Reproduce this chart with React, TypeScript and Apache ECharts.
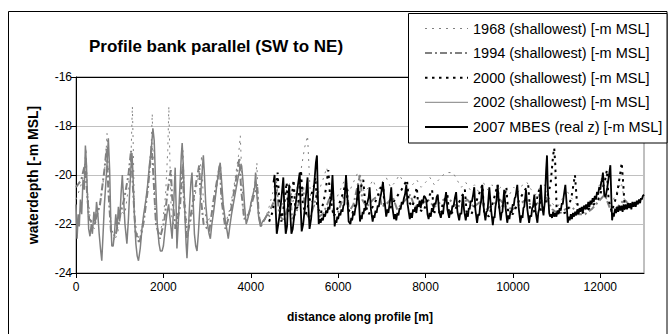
import React, { useEffect, useRef } from "react";
import * as echarts from "echarts";

const seriesNames = [
  "1968 (shallowest) [-m MSL]",
  "1994 (shallowest) [-m MSL]",
  "2000 (shallowest) [-m MSL]",
  "2002 (shallowest) [-m MSL]",
  "2007 MBES (real z) [-m MSL]",
];

const d1968: number[][] = [
  [0,-21.0],[100,-20.5],[180,-20.0],[230,-18.9],[260,-20.6],[330,-21.9],[420,-22.2],[520,-21.4],[600,-20.6],[680,-19.4],[710,-18.3],[740,-19.8],[800,-22.0],[880,-22.7],[960,-22.3],[1040,-21.5],[1120,-21.6],[1200,-20.5],[1260,-19.2],[1290,-17.2],[1310,-18.8],[1340,-21.8],[1420,-22.6],[1500,-22.2],[1580,-21.3],[1660,-20.2],[1720,-18.9],[1745,-17.5],[1770,-19.5],[1820,-21.8],[1900,-22.4],[1980,-22.0],[2050,-20.8],[2100,-19.0],[2125,-17.2],[2150,-19.5],[2180,-21.6],[2260,-22.2],[2350,-21.4],[2420,-20.0],[2450,-19.0],[2480,-20.8],[2560,-22.4],[2650,-21.7],[2750,-20.6],[2850,-19.6],[2880,-19.2],[2910,-20.9],[2990,-22.0],[3100,-21.6],[3200,-20.7],[3280,-19.9],[3310,-19.5],[3340,-21.0],[3420,-22.0],[3520,-21.4],[3620,-20.4],[3720,-19.2],[3760,-18.4],[3790,-19.8],[3830,-21.6],[3920,-21.9],[4020,-21.0],[4110,-20.2],[4140,-19.5],[4170,-21.2],[4230,-22.1],[4330,-21.8],[4420,-21.3],[4520,-20.6],[4580,-20.1],[4620,-20.9],[4700,-21.3],[4800,-20.7],[4900,-20.3],[4950,-21.2],[5050,-20.6],[5150,-19.8],[5230,-18.9],[5300,-18.4],[5330,-19.6],[5370,-21.0],[5450,-21.3],[5550,-20.7],[5650,-20.2],[5740,-19.7],[5790,-20.4],[5850,-21.1],[5950,-21.0],[6050,-20.6],[6150,-20.2],[6250,-20.7],[6350,-20.3],[6450,-19.9],[6520,-20.3],[6600,-20.7],[6700,-20.5],[6800,-20.2],[6900,-20.7],[7000,-20.3],[7100,-20.1],[7200,-20.5],[7300,-20.3],[7400,-20.0],[7500,-20.3],[7600,-20.6],[7700,-20.4],[7800,-20.2],[7900,-20.5],[8000,-20.3],[8100,-20.1],[8200,-20.4],[8300,-20.2],[8400,-20.0],[8520,-19.9],[8630,-19.9],[8720,-20.2],[8820,-20.5],[8920,-20.3],[9020,-20.6],[9120,-20.4],[9220,-20.7],[9320,-20.3],[9420,-20.6],[9520,-20.4],[9620,-20.7],[9720,-20.5],[9820,-20.6],[9920,-20.8],[10020,-20.5],[10120,-20.7],[10220,-20.4],[10320,-20.3],[10420,-20.6],[10520,-20.8],[10620,-20.5],[10720,-20.4],[10820,-20.9],[10920,-21.2],[11020,-21.3],[11120,-21.0],[11220,-20.6],[11320,-20.9],[11420,-21.1],[11520,-21.4],[11620,-21.5],[11720,-21.3],[11820,-21.1],[11920,-20.7],[12000,-20.3],[12050,-20.0],[12100,-20.8],[12200,-21.2],[12300,-21.0],[12400,-20.6],[12480,-20.3],[12550,-21.0],[12650,-21.2],
];

const d1994: number[][] = [
  [0,-20.5],[120,-20.2],[200,-19.6],[240,-20.4],[300,-21.8],[420,-22.0],[550,-21.2],[650,-19.8],[700,-18.9],[740,-20.6],[800,-22.3],[900,-22.5],[1000,-21.7],[1100,-21.0],[1200,-20.0],[1260,-19.0],[1300,-20.4],[1360,-22.3],[1450,-22.8],[1550,-21.9],[1650,-20.5],[1730,-18.8],[1770,-20.0],[1830,-22.0],[1920,-22.6],[2020,-21.9],[2100,-20.6],[2170,-19.8],[2200,-20.9],[2280,-22.2],[2380,-21.3],[2440,-19.6],[2470,-21.0],[2540,-22.6],[2640,-21.5],[2760,-20.2],[2820,-19.6],[2850,-20.8],[2920,-22.0],[3050,-22.3],[3150,-21.0],[3250,-20.0],[3290,-19.6],[3330,-21.0],[3420,-22.2],[3550,-21.4],[3680,-20.0],[3740,-19.3],[3780,-20.6],[3850,-21.8],[3950,-21.6],[4080,-20.8],[4150,-20.5],[4180,-21.6],[4230,-22.1],[4350,-21.7],[4450,-21.4],[4550,-21.0],[4600,-20.6],[4650,-21.6],[4750,-21.9],[4850,-21.3],[4900,-20.8],[4950,-21.8],[5050,-21.5],[5150,-20.8],[5200,-20.5],[5250,-21.5],[5350,-21.8],[5450,-21.2],[5520,-20.7],[5560,-21.7],[5650,-21.6],[5750,-21.2],[5850,-20.7],[5900,-21.6],[6000,-21.5],[6100,-21.0],[6200,-20.6],[6250,-21.5],[6350,-21.2],[6500,-20.0],[6550,-21.0],[6650,-21.3],[6800,-21.0],[6950,-20.8],[7000,-21.3],[7100,-21.2],[7250,-20.9],[7350,-21.4],[7500,-21.1],[7650,-20.8],[7750,-21.3],[7900,-21.2],[8050,-21.0],[8200,-21.3],[8350,-21.1],[8500,-20.9],[8650,-21.2],[8800,-21.3],[8950,-21.0],[9100,-21.3],[9250,-21.1],[9400,-21.4],[9550,-21.2],[9700,-21.0],[9850,-21.3],[10000,-21.4],[10150,-21.2],[10300,-21.0],[10450,-21.3],[10600,-21.1],[10750,-20.9],[10900,-21.4],[11050,-21.6],[11200,-21.4],[11350,-21.3],[11500,-21.6],[11650,-21.6],[11800,-21.4],[11950,-21.1],[12100,-20.8],[12250,-21.5],[12400,-21.3],[12550,-21.0],[12700,-21.3],
];

const d2000: number[][] = [
  [4420,-21.9],[4500,-21.5],[4580,-20.6],[4615,-19.9],[4650,-21.0],[4700,-21.9],[4780,-21.0],[4820,-20.3],[4860,-21.5],[4920,-21.2],[4980,-20.2],[5020,-21.4],[5080,-21.3],[5150,-19.8],[5190,-21.2],[5260,-21.6],[5350,-21.0],[5440,-20.5],[5480,-20.1],[5520,-21.3],[5600,-21.6],[5700,-20.8],[5775,-19.8],[5820,-21.0],[5900,-21.7],[6000,-21.3],[6100,-20.8],[6180,-20.3],[6230,-21.4],[6320,-21.6],[6450,-20.9],[6575,-20.2],[6620,-21.2],[6700,-21.6],[6850,-21.1],[6980,-20.5],[7025,-20.3],[7060,-21.3],[7150,-21.5],[7300,-21.0],[7450,-20.6],[7575,-20.2],[7620,-21.1],[7700,-21.3],[7800,-20.5],[7840,-21.4],[7950,-21.5],[8050,-21.0],[8150,-20.6],[8190,-21.5],[8300,-21.6],[8420,-21.1],[8500,-20.8],[8540,-21.6],[8650,-21.5],[8800,-21.0],[8900,-20.6],[8940,-21.5],[9050,-21.6],[9200,-20.9],[9300,-20.4],[9340,-21.5],[9450,-21.7],[9560,-21.0],[9650,-20.4],[9690,-21.4],[9760,-21.3],[9850,-20.5],[9890,-21.5],[10000,-21.6],[10150,-21.0],[10280,-20.6],[10350,-20.4],[10390,-21.4],[10480,-21.5],[10600,-20.6],[10640,-21.5],[10720,-21.3],[10860,-20.4],[10920,-19.2],[10945,-18.9],[10970,-19.6],[11000,-21.4],[11100,-21.6],[11250,-21.5],[11350,-20.8],[11420,-20.0],[11460,-21.0],[11520,-21.6],[11650,-21.5],[11800,-21.3],[11950,-21.0],[12100,-20.3],[12150,-19.8],[12190,-21.0],[12260,-21.5],[12380,-20.8],[12460,-19.9],[12490,-19.5],[12530,-20.5],[12560,-21.4],[12650,-21.5],
];

const d2002: number[][] = [
  [0,-21.2],[25,-22.6],[50,-21.6],[75,-22.1],[100,-21.0],[130,-21.6],[160,-20.2],[190,-20.6],[215,-18.8],[240,-19.6],[260,-20.8],[290,-22.2],[320,-22.5],[350,-22.0],[375,-22.4],[410,-21.5],[440,-22.0],[470,-21.1],[500,-21.6],[530,-22.4],[560,-23.0],[590,-23.5],[620,-22.4],[650,-21.2],[680,-20.4],[710,-19.6],[740,-18.5],[770,-19.8],[795,-21.8],[820,-22.9],[850,-22.9],[880,-22.4],[910,-21.6],[940,-22.2],[970,-21.3],[1000,-21.9],[1030,-20.8],[1060,-20.0],[1090,-21.0],[1120,-22.0],[1165,-22.8],[1200,-21.8],[1230,-20.6],[1255,-19.8],[1280,-19.1],[1300,-19.8],[1330,-21.4],[1370,-22.8],[1400,-23.3],[1430,-23.5],[1470,-23.0],[1510,-22.2],[1550,-21.6],[1600,-21.0],[1640,-20.4],[1680,-19.6],[1720,-19.0],[1760,-18.1],[1790,-18.6],[1820,-20.2],[1860,-22.0],[1900,-22.8],[1930,-23.1],[1970,-23.1],[2000,-22.9],[2040,-22.2],[2080,-21.6],[2120,-21.2],[2160,-21.9],[2200,-22.6],[2240,-21.0],[2270,-19.7],[2290,-21.2],[2310,-23.0],[2340,-22.0],[2380,-20.4],[2410,-19.2],[2430,-18.7],[2460,-19.8],[2490,-21.5],[2520,-22.8],[2540,-23.4],[2570,-22.3],[2600,-21.2],[2630,-20.3],[2655,-19.9],[2680,-21.0],[2710,-22.4],[2740,-22.9],[2770,-23.1],[2800,-22.4],[2830,-21.5],[2860,-20.6],[2890,-19.8],[2915,-19.2],[2940,-20.0],[2970,-21.2],[3010,-22.0],[3045,-22.4],[3075,-22.6],[3110,-22.0],[3150,-21.5],[3190,-20.9],[3230,-20.3],[3270,-19.8],[3300,-19.5],[3330,-20.2],[3370,-21.2],[3420,-21.9],[3460,-22.3],[3485,-22.6],[3520,-22.1],[3560,-21.6],[3610,-21.1],[3660,-20.6],[3710,-20.1],[3750,-19.8],[3790,-19.6],[3820,-20.2],[3860,-21.3],[3895,-22.0],[3930,-21.8],[3970,-21.5],[4010,-21.1],[4050,-20.8],[4090,-20.5],[4110,-19.9],[4140,-20.8],[4180,-21.7],[4220,-22.1],[4270,-21.9],[4320,-21.8],[4380,-21.6],[4440,-21.7],
];

const d2007: number[][] = [
  [4520,-20.3],[4545,-20.0],[4570,-21.4],[4595,-22.4],[4630,-22.0],[4670,-21.5],[4710,-20.8],[4745,-20.1],[4770,-21.5],[4800,-22.4],[4830,-22.1],[4855,-21.0],[4880,-20.4],[4905,-21.6],[4930,-22.4],[4960,-22.2],[5000,-21.6],[5040,-21.0],[5080,-20.4],[5120,-19.9],[5140,-21.2],[5165,-22.3],[5200,-22.0],[5240,-21.3],[5275,-20.6],[5300,-20.1],[5320,-21.3],[5345,-22.2],[5380,-21.8],[5420,-21.0],[5460,-20.2],[5490,-19.5],[5515,-19.2],[5535,-20.8],[5555,-22.0],[5580,-21.8],[5600,-21.95],[5625,-21.75],[5650,-21.85],[5675,-21.6],[5700,-21.7],[5725,-21.45],[5750,-21.55],[5775,-21.3],[5800,-21.4],[5820,-21.1],[5840,-21.0],[5870,-20.0],[5895,-21.0],[5920,-22.1],[5940,-21.85],[5960,-21.95],[5980,-21.7],[6000,-21.8],[6025,-21.55],[6050,-21.65],[6075,-21.4],[6100,-21.5],[6120,-21.25],[6140,-21.2],[6180,-20.0],[6210,-20.9],[6240,-21.9],[6280,-22.0],[6300,-21.75],[6320,-21.85],[6345,-21.55],[6370,-21.65],[6395,-21.35],[6420,-21.2],[6460,-20.4],[6480,-21.2],[6500,-21.9],[6520,-21.65],[6540,-21.8],[6560,-21.5],[6580,-21.6],[6600,-21.35],[6620,-21.45],[6640,-21.15],[6660,-21.2],[6700,-20.9],[6720,-20.5],[6750,-21.4],[6790,-21.9],[6810,-21.65],[6830,-21.75],[6855,-21.45],[6880,-21.55],[6905,-21.25],[6930,-21.3],[6955,-21.0],[6980,-20.8],[7025,-20.3],[7060,-21.0],[7100,-21.7],[7125,-21.45],[7150,-21.55],[7190,-21.0],[7215,-20.5],[7240,-21.3],[7280,-21.8],[7305,-21.6],[7330,-21.85],[7355,-21.55],[7380,-21.65],[7405,-21.35],[7430,-21.4],[7455,-21.1],[7480,-21.2],[7505,-20.95],[7530,-20.8],[7560,-20.4],[7590,-21.2],[7640,-21.8],[7665,-21.55],[7690,-21.75],[7715,-21.4],[7740,-21.5],[7765,-21.3],[7790,-21.55],[7815,-21.2],[7840,-21.3],[7865,-21.05],[7890,-21.35],[7915,-21.0],[7940,-21.15],[7965,-20.85],[7990,-20.9],[8015,-21.0],[8045,-21.6],[8070,-21.8],[8095,-21.55],[8120,-21.7],[8145,-21.35],[8170,-21.5],[8200,-21.15],[8230,-21.2],[8255,-20.9],[8280,-20.8],[8310,-21.5],[8350,-21.75],[8375,-21.45],[8400,-21.6],[8420,-21.25],[8440,-21.1],[8470,-20.7],[8500,-21.4],[8540,-21.75],[8565,-21.45],[8590,-21.6],[8615,-21.25],[8640,-21.3],[8670,-20.95],[8700,-20.7],[8730,-21.5],[8770,-21.85],[8795,-21.55],[8820,-21.6],[8855,-20.8],[8880,-21.4],[8920,-21.85],[8945,-21.55],[8970,-21.7],[8990,-21.35],[9010,-21.4],[9035,-21.05],[9060,-21.1],[9090,-20.8],[9115,-20.5],[9140,-21.4],[9180,-21.95],[9205,-21.6],[9230,-21.65],[9250,-21.25],[9270,-21.1],[9300,-20.4],[9330,-21.3],[9370,-21.85],[9395,-21.5],[9420,-21.45],[9460,-20.5],[9500,-21.4],[9540,-22.05],[9560,-21.7],[9580,-21.75],[9600,-21.3],[9620,-21.1],[9650,-20.4],[9680,-21.2],[9720,-21.85],[9740,-21.55],[9760,-21.5],[9800,-20.6],[9830,-21.3],[9870,-21.95],[9895,-21.65],[9920,-21.8],[9945,-21.45],[9970,-21.55],[9995,-21.2],[10020,-21.25],[10040,-20.95],[10060,-20.9],[10100,-20.4],[10130,-21.3],[10170,-21.95],[10195,-21.65],[10220,-21.75],[10240,-21.35],[10260,-21.3],[10300,-20.6],[10330,-21.4],[10370,-21.95],[10395,-21.65],[10420,-21.7],[10440,-21.35],[10460,-21.3],[10490,-20.8],[10520,-21.5],[10560,-21.95],[10580,-21.55],[10600,-21.4],[10640,-20.4],[10670,-21.3],[10700,-21.65],[10715,-21.35],[10730,-21.1],[10760,-19.8],[10780,-19.2],[10800,-20.6],[10830,-21.55],[10850,-21.7],[10870,-21.6],[10895,-21.75],[10920,-21.5],[10945,-21.7],[10970,-21.55],[10995,-21.7],[11020,-21.45],[11045,-21.6],[11070,-21.35],[11095,-21.45],[11120,-21.15],[11140,-21.2],[11160,-20.9],[11200,-20.4],[11230,-21.2],[11255,-21.95],[11280,-21.7],[11300,-21.85],[11325,-21.6],[11350,-21.8],[11375,-21.55],[11400,-21.7],[11425,-21.5],[11450,-21.65],[11475,-21.4],[11500,-21.6],[11525,-21.35],[11550,-21.5],[11575,-21.3],[11600,-21.5],[11625,-21.25],[11650,-21.4],[11675,-21.2],[11700,-21.4],[11725,-21.1],[11750,-21.3],[11775,-21.05],[11800,-21.2],[11825,-20.95],[11850,-21.1],[11875,-20.85],[11900,-21.0],[11925,-20.7],[11950,-20.8],[11975,-20.5],[12000,-20.6],[12020,-20.3],[12040,-20.2],[12060,-19.9],[12090,-20.8],[12120,-20.9],[12160,-20.5],[12200,-20.0],[12230,-19.6],[12250,-20.8],[12270,-21.85],[12290,-21.55],[12310,-21.7],[12335,-21.4],[12360,-21.55],[12385,-21.3],[12410,-21.5],[12435,-21.25],[12460,-21.45],[12485,-21.25],[12510,-21.5],[12535,-21.2],[12560,-21.4],[12585,-21.2],[12610,-21.4],[12635,-21.15],[12660,-21.35],[12685,-21.15],[12710,-21.4],[12735,-21.1],[12760,-21.3],[12785,-21.1],[12810,-21.3],[12835,-21.05],[12860,-21.2],[12885,-21.0],[12910,-21.15],[12930,-20.95],[12950,-21.0],[12975,-20.85],[13000,-20.8],
];

const seriesData = [d1968, d1994, d2000, d2002, d2007];
const seriesColors = ["#808080", "#808080", "#000000", "#808080", "#000000"];
const seriesWidths = [1, 2, 2, 1.5, 1.8];
const seriesDash: (number[] | "solid")[] = [[2, 5], [7, 3, 2, 3], [2.5, 4.5], "solid", "solid"];

const FONT = "'Liberation Sans', Arial, Helvetica, sans-serif";

export default function App() {
  const ref = useRef<HTMLDivElement>(null);
  useEffect(() => {
    const chart = echarts.init(ref.current!, null, { renderer: "svg" });
    const legendGraphics: any[] = [];
    seriesNames.forEach((name, i) => {
      const y = 28.5 + i * 24.6;
      legendGraphics.push({
        type: "line",
        z: 110,
        shape: { x1: 425, y1: y, x2: 468, y2: y },
        style: {
          stroke: seriesColors[i],
          lineWidth: seriesWidths[i] > 1.6 ? 2 : 1,
          lineDash: seriesDash[i] === "solid" ? null : seriesDash[i],
        },
      });
      legendGraphics.push({
        type: "text",
        z: 110,
        x: 473,
        y,
        style: {
          text: name,
          fontSize: 14.5,
          fontFamily: FONT,
          fill: "#000",
          verticalAlign: "middle",
          align: "left",
        },
      });
    });
    chart.setOption({
      animation: false,
      backgroundColor: "#ffffff",
      title: {
        text: "Profile bank parallel (SW to NE)",
        left: 84,
        top: 33,
        textStyle: { fontSize: 17, fontWeight: "bold", fontFamily: FONT, color: "#000" },
      },
      grid: {
        left: 76,
        top: 77,
        right: 25,
        bottom: 61,
        show: true,
        borderColor: "#808080",
        borderWidth: 1,
        backgroundColor: "#ffffff",
      },
      xAxis: [
        {
          type: "value",
          min: 0,
          max: 13000,
          interval: 2000,
          name: "distance along profile [m]",
          nameLocation: "middle",
          nameGap: 38,
          nameTextStyle: { fontSize: 12, fontWeight: "bold", fontFamily: FONT, color: "#000" },
          axisLine: { show: true, lineStyle: { color: "#000", width: 1 } },
          axisTick: { show: true, length: 5, lineStyle: { color: "#000" } },
          axisLabel: {
            fontSize: 12,
            fontFamily: FONT,
            color: "#000",
            margin: 8,
            showMaxLabel: false,
            formatter: (v: number) => String(v),
          },
          splitLine: { show: false },
        },
        {
          type: "value",
          position: "top",
          min: 0,
          max: 13000,
          interval: 2000,
          axisLine: { show: true, lineStyle: { color: "#000", width: 1 } },
          axisTick: { show: false },
          axisLabel: { show: false },
          splitLine: { show: false },
        },
      ],
      yAxis: {
        type: "value",
        min: -24,
        max: -16,
        interval: 2,
        name: "waterdepth [-m MSL]",
        nameLocation: "middle",
        nameRotate: 90,
        nameGap: 36,
        nameTextStyle: { fontSize: 14, fontWeight: "bold", fontFamily: FONT, color: "#000" },
        axisLine: { show: true, lineStyle: { color: "#000", width: 1 } },
        axisTick: { show: true, length: 5, lineStyle: { color: "#000" } },
        axisLabel: { fontSize: 12, fontFamily: FONT, color: "#000", margin: 4 },
        splitLine: { show: true, lineStyle: { color: "#c0c0c0", width: 1 } },
      },
      graphic: [
        {
          type: "rect",
          z: -10,
          shape: { x: 8.5, y: 11.5, width: 658.5, height: 323 },
          style: { fill: "none", stroke: "#000", lineWidth: 1 },
        },
        {
          type: "rect",
          z: 100,
          shape: { x: 408.5, y: 13.5, width: 258.5, height: 129.5 },
          style: { fill: "#fff", stroke: "#000", lineWidth: 1 },
        },
        ...legendGraphics,
      ],
      series: seriesNames.map((name, i) => ({
        type: "line",
        name,
        data: seriesData[i],
        symbol: "none",
        xAxisIndex: 0,
        lineStyle: {
          color: seriesColors[i],
          width: seriesWidths[i],
          type: seriesDash[i],
        },
        z: 2 + i,
      })),
    });
    return () => chart.dispose();
  }, []);
  return (
    <div
      ref={ref}
      style={{ position: "fixed", left: 0, top: 0, width: 669, height: 334, background: "#fff" }}
    />
  );
}
